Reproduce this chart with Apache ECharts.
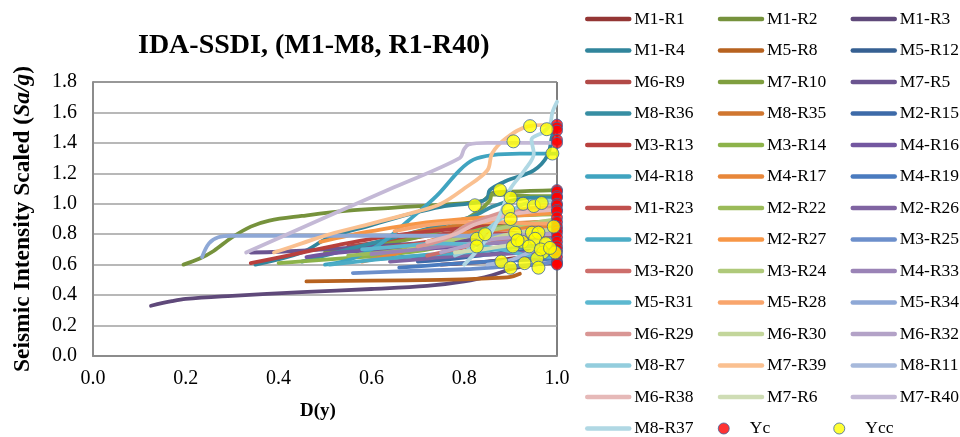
<!DOCTYPE html>
<html>
<head>
<meta charset="utf-8">
<title>IDA-SSDI</title>
<script src="https://cdn.jsdelivr.net/npm/echarts@6/dist/echarts.min.js"></script>
<style>
  html, body { margin: 0; padding: 0; background: #fff; }
  #main { width: 960px; height: 437px; }
</style>
</head>
<body>
<div id="main"></div>
<script>
// axis ticks
var xTicks = [0.0, 0.2, 0.4, 0.6, 0.8, 1.0];
var yTicks = [0.0, 0.2, 0.4, 0.6, 0.8, 1.0, 1.2, 1.4, 1.6, 1.8];

// legend order of the record curves
var seriesNames = ['M1-R1','M1-R2','M1-R3','M1-R4','M5-R8','M5-R12','M6-R9','M7-R10','M7-R5',
    'M8-R36','M8-R35','M2-R15','M3-R13','M3-R14','M4-R16','M4-R18','M4-R17','M4-R19',
    'M1-R23','M2-R22','M2-R26','M2-R21','M2-R27','M3-R25','M3-R20','M3-R24','M4-R33',
    'M5-R31','M5-R28','M5-R34','M6-R29','M6-R30','M6-R32','M8-R7','M7-R39','M8-R11',
    'M6-R38','M7-R6','M7-R40','M8-R37'];

// IDA curves, [D(y), Sa/g]
var m1r1 = [[0.75,0.60],[0.80,0.61],[0.85,0.62],[0.90,0.64],[0.95,0.66],[1.0,0.68]];
var m1r2 = [[0.195,0.60],[0.23,0.64],[0.26,0.69],[0.30,0.78],[0.34,0.85],[0.38,0.89],[0.45,0.92],[0.55,0.955],[0.65,0.975],[0.75,0.995],[0.84,1.02],[0.86,1.07],[0.90,1.08],[1.0,1.09]];
var m1r3 = [[0.125,0.33],[0.17,0.36],[0.20,0.375],[0.30,0.395],[0.45,0.42],[0.60,0.44],[0.72,0.46],[0.80,0.49],[0.86,0.53],[0.90,0.57],[0.95,0.60],[1.0,0.61]];
var m1r4 = [[0.35,0.60],[0.45,0.68],[0.51,0.78],[0.60,0.86],[0.68,0.93],[0.75,0.98],[0.83,1.01],[0.85,1.04],[0.855,1.09],[0.89,1.15],[0.95,1.22],[0.98,1.32],[0.99,1.45],[1.0,1.50]];
var m5r8 = [[0.46,0.49],[0.60,0.495],[0.75,0.50],[0.85,0.51],[0.90,0.52],[0.92,0.54]];
var m5r12 = [[0.62,0.64],[0.72,0.66],[0.82,0.68],[0.90,0.72],[0.96,0.74],[1.0,0.75]];
var m6r9 = [[0.55,0.72],[0.65,0.76],[0.75,0.80],[0.85,0.83],[0.92,0.85],[1.0,0.86]];
var m7r10 = [[0.50,0.68],[0.60,0.72],[0.70,0.78],[0.78,0.86],[0.83,0.95],[0.855,1.02],[0.86,1.06],[0.88,1.06],[0.95,1.05],[1.0,1.05]];
var m7r5 = [[0.34,0.68],[0.40,0.685],[0.50,0.70],[0.60,0.72],[0.70,0.74],[0.80,0.76],[0.90,0.78],[1.0,0.78]];
var m8r36 = [[0.45,0.62],[0.55,0.70],[0.65,0.78],[0.75,0.86],[0.82,0.92],[0.86,0.98],[0.90,1.02],[0.95,1.04],[1.0,1.04]];
var m8r35 = [[0.69,0.81],[0.75,0.84],[0.80,0.86],[0.87,0.87],[0.95,0.88],[1.0,0.89]];
var m2r15 = [[0.70,0.62],[0.78,0.64],[0.86,0.67],[0.93,0.69],[1.0,0.70]];
var m3r13 = [[0.34,0.61],[0.42,0.66],[0.53,0.73],[0.60,0.77],[0.70,0.81],[0.80,0.84],[0.90,0.86],[1.0,0.87]];
var m3r14 = [[0.40,0.61],[0.53,0.64],[0.65,0.67],[0.75,0.72],[0.80,0.80],[0.85,0.84],[0.92,0.86],[1.0,0.88]];
var m4r16 = [[0.46,0.65],[0.53,0.68],[0.65,0.70],[0.75,0.71],[0.85,0.74],[0.95,0.75],[1.0,0.75]];
var m4r18 = [[0.50,0.60],[0.55,0.63],[0.60,0.70],[0.63,0.76],[0.68,0.89],[0.74,1.05],[0.79,1.22],[0.82,1.29],[0.86,1.32],[0.92,1.33],[1.0,1.33]];
var m4r17 = [[0.58,0.62],[0.65,0.67],[0.72,0.75],[0.78,0.80],[0.85,0.82],[0.92,0.84],[1.0,0.85]];
var m4r19 = [[0.66,0.58],[0.75,0.60],[0.85,0.62],[0.92,0.63],[1.0,0.64]];
var m1r23 = [[0.62,0.71],[0.70,0.74],[0.78,0.78],[0.85,0.80],[0.92,0.81],[1.0,0.82]];
var m2r22 = [[0.55,0.66],[0.65,0.69],[0.75,0.75],[0.80,0.85],[0.84,0.90],[0.90,0.92],[1.0,0.93]];
var m2r26 = [[0.64,0.62],[0.72,0.64],[0.80,0.66],[0.88,0.67],[0.95,0.68],[1.0,0.68]];
var m2r21 = [[0.51,0.60],[0.60,0.63],[0.70,0.66],[0.80,0.68],[0.87,0.70],[0.95,0.72],[1.0,0.72]];
var m2r27 = [[0.49,0.75],[0.55,0.79],[0.60,0.82],[0.70,0.87],[0.80,0.90],[0.90,0.92],[1.0,0.94]];
var m3r25 = [[0.56,0.545],[0.70,0.56],[0.80,0.57],[0.88,0.585],[0.95,0.60],[1.0,0.62]];
var m3r20 = [[0.72,0.66],[0.78,0.70],[0.84,0.74],[0.90,0.77],[0.96,0.79],[1.0,0.80]];
var m3r24 = [[0.68,0.70],[0.74,0.74],[0.80,0.78],[0.86,0.83],[0.92,0.86],[1.0,0.90]];
var m4r33 = [[0.60,0.67],[0.70,0.70],[0.78,0.73],[0.86,0.74],[0.94,0.76],[1.0,0.77]];
var m5r31 = [[0.58,0.70],[0.66,0.72],[0.74,0.74],[0.82,0.73],[0.88,0.70],[0.94,0.66],[1.0,0.65]];
var m5r28 = [[0.65,0.82],[0.72,0.86],[0.80,0.88],[0.88,0.88],[0.95,0.87],[1.0,0.87]];
var m5r34 = [[0.235,0.65],[0.25,0.74],[0.27,0.78],[0.30,0.79],[0.50,0.79],[0.70,0.79],[0.85,0.79],[0.95,0.80],[1.0,0.80]];
var m6r29 = [[0.70,0.72],[0.76,0.77],[0.80,0.85],[0.84,0.90],[0.88,0.94],[0.94,0.97],[1.0,0.98]];
var m6r30 = [[0.80,0.72],[0.84,0.75],[0.87,0.78],[0.90,0.80],[0.95,0.82],[1.0,0.83]];
var m6r32 = [[0.75,0.68],[0.80,0.72],[0.85,0.76],[0.90,0.78],[0.95,0.80],[1.0,0.80]];
var m8r7 = [[0.78,0.66],[0.82,0.72],[0.84,0.80],[0.87,0.88],[0.90,0.95],[0.93,1.00],[0.97,1.02],[1.0,1.02]];
var m7r39 = [[0.39,0.68],[0.45,0.74],[0.51,0.80],[0.60,0.87],[0.70,0.95],[0.75,1.00],[0.80,1.10],[0.85,1.22],[0.86,1.33],[0.89,1.43],[0.94,1.51],[1.0,1.52]];
var m8r11 = [[0.85,0.60],[0.90,0.63],[0.94,0.68],[0.97,0.72],[1.0,0.72]];
var m6r38 = [[0.72,0.75],[0.78,0.80],[0.82,0.86],[0.86,0.90],[0.90,0.93],[0.95,0.95],[1.0,0.96]];
var m7r6 = [[0.78,0.68],[0.84,0.70],[0.88,0.72],[0.92,0.74],[0.96,0.75],[1.0,0.76]];
var m7r40 = [[0.33,0.68],[0.50,0.91],[0.65,1.11],[0.79,1.30],[0.80,1.36],[0.81,1.39],[0.85,1.40],[1.0,1.40]];
var m8r37 = [[0.80,0.60],[0.83,0.70],[0.86,0.82],[0.88,0.95],[0.90,1.10],[0.93,1.22],[0.95,1.33],[0.945,1.42],[0.97,1.47],[0.985,1.52],[0.99,1.60],[1.0,1.67]];

var curves = [m1r1, m1r2, m1r3, m1r4, m5r8, m5r12, m6r9, m7r10, m7r5, m8r36, m8r35, m2r15,
    m3r13, m3r14, m4r16, m4r18, m4r17, m4r19, m1r23, m2r22, m2r26, m2r21, m2r27, m3r25,
    m3r20, m3r24, m4r33, m5r31, m5r28, m5r34, m6r29, m6r30, m6r32, m8r7, m7r39, m8r11,
    m6r38, m7r6, m7r40, m8r37];

// Yc points (collapse), all at D = 1.0
var ycD = [1.0,1.0,1.0,1.0,1.0,1.0,1.0,1.0,1.0,1.0,1.0,1.0,1.0,1.0,1.0,1.0,1.0,1.0,1.0,1.0,1.0,1.0,1.0,1.0,1.0,1.0,1.0];
var ycSa = [1.52,1.50,1.48,1.42,1.40,1.09,1.08,1.05,1.04,1.00,0.99,0.96,0.95,0.91,0.88,0.85,0.83,0.81,0.78,0.75,0.72,0.70,0.68,0.65,0.62,0.61,0.60];

// Ycc points
var yccD = [0.942,0.978,0.906,0.990,0.877,0.823,0.900,0.927,0.950,0.967,0.895,0.900,0.993,0.827,0.827,0.845,
    0.910,0.905,0.925,0.946,0.960,0.953,0.976,0.970,0.996,0.957,0.880,0.900,0.930,0.960,0.940,0.965,0.985,0.915];
var yccSa = [1.51,1.49,1.41,1.33,1.09,0.99,1.04,1.00,0.985,1.005,0.96,0.90,0.85,0.77,0.72,0.80,
    0.81,0.72,0.75,0.81,0.81,0.77,0.74,0.68,0.68,0.64,0.62,0.58,0.61,0.58,0.72,0.70,0.71,0.76];

var colors = ['#943634','#76923C','#5F497A','#31859C','#B7621F','#366092','#B24A47','#7F9F3F','#6B5490',
    '#378EA3','#D0762F','#3D6AA8','#B8403D','#8DB34A','#7357A0','#40A4C0','#E8873A','#4A7BBF',
    '#C0504D','#9BBB59','#8064A2','#4BACC6','#F79646','#6C8FCB','#CD6E6B','#AFC97A','#9A83B6',
    '#5CB8D0','#F9A56C','#8EA8D6','#D99694','#C3D69B','#B3A2C7','#93CDDD','#FAC090','#A7B9DB',
    '#E6B9B8','#CFDDB5','#C4B9D6','#B0D8E4'];

var serif = 'Liberation Serif, Times New Roman, serif';
var ycStyle = { color: '#FF0000', borderColor: '#3D65A0', borderWidth: 1 };
var yccStyle = { color: '#FFFF00', borderColor: '#3D65A0', borderWidth: 1 };

function pairs(xs, ys) {
    var out = [];
    for (var i = 0; i < xs.length; i++) out.push([xs[i], ys[i]]);
    return out;
}

var series = [];
for (var i = 0; i < curves.length; i++) {
    series.push({
        name: seriesNames[i],
        type: 'line',
        data: curves[i],
        smooth: 0.35,
        symbol: 'none',
        lineStyle: { width: 3.8, color: colors[i], cap: 'round', join: 'round' },
        itemStyle: { color: colors[i] },
        z: 2
    });
}
series.push({
    name: 'Yc',
    type: 'scatter',
    data: pairs(ycD, ycSa),
    symbolSize: 11,
    itemStyle: ycStyle,
    z: 3
});
series.push({
    name: 'Ycc',
    type: 'scatter',
    data: pairs(yccD, yccSa),
    symbolSize: 13,
    itemStyle: yccStyle,
    z: 4
});

var chart = echarts.init(document.getElementById('main'), null, { renderer: 'canvas' });
var option = {
    animation: false,
    backgroundColor: '#fff',
    title: {
        text: 'IDA-SSDI, (M1-M8, R1-R40)',
        left: 133,
        top: 27,
        textStyle: { fontFamily: serif, fontSize: 28, fontWeight: 'bold', color: '#000' }
    },
    legend: {
        left: 585,
        top: 6.5,
        padding: 0,
        width: 400,
        itemWidth: 42,
        itemHeight: 11,
        itemGap: 6.5,
        // hide the middle symbol of line icons; Yc / Ycc get their own style back
        itemStyle: { color: 'rgba(0,0,0,0)', borderWidth: 0 },
        lineStyle: { width: 4.5, cap: 'round' },
        data: seriesNames.concat([
            { name: 'Yc', icon: 'circle', itemStyle: ycStyle },
            { name: 'Ycc', icon: 'circle', itemStyle: yccStyle }
        ]),
        textStyle: { fontFamily: serif, fontSize: 17.5, color: '#000', width: 77, lineHeight: 25 }
    },
    grid: {
        left: 93, right: 403, top: 82, bottom: 81,
        show: true, borderColor: '#000', borderWidth: 1
    },
    xAxis: {
        type: 'value',
        min: xTicks[0], max: xTicks[xTicks.length - 1], interval: 0.2,
        name: 'D(y)',
        nameLocation: 'middle',
        nameGap: 46,
        nameTextStyle: { fontFamily: serif, fontSize: 19, fontWeight: 'bold', color: '#000',
            padding: [0, 14, 0, 0] },
        axisLine: { show: true, lineStyle: { color: '#8C8C8C', width: 2 } },
        axisTick: { show: false },
        splitLine: { show: false },
        axisLabel: { fontFamily: serif, fontSize: 20, color: '#000', margin: 13,
            formatter: function (v) { return v.toFixed(1); } }
    },
    yAxis: {
        type: 'value',
        min: yTicks[0], max: yTicks[yTicks.length - 1], interval: 0.2,
        name: '{b|Seismic Intensity Scaled (}{i|Sa/g}{b|)}',
        nameLocation: 'middle',
        nameGap: 58,
        nameTextStyle: {
            fontFamily: serif, fontSize: 23.5, fontWeight: 'bold', color: '#000',
            rich: {
                b: { fontFamily: serif, fontSize: 23.5, fontWeight: 'bold', color: '#000' },
                i: { fontFamily: serif, fontSize: 23.5, fontWeight: 'bold', fontStyle: 'italic', color: '#000' }
            }
        },
        axisLine: { show: true, lineStyle: { color: '#8C8C8C', width: 2 } },
        axisTick: { show: false },
        splitLine: { show: true, lineStyle: { color: '#A0A0A0', width: 1.5 } },
        axisLabel: { fontFamily: serif, fontSize: 20, color: '#000', margin: 16,
            formatter: function (v) { return v.toFixed(1); } }
    },
    series: series
};
chart.setOption(option);

window.onresize = chart.resize;
</script>
</body>
</html>
